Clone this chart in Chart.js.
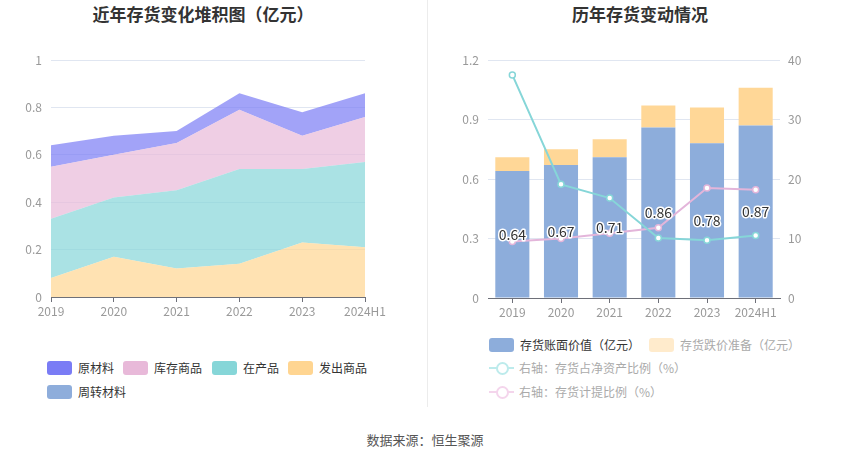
<!DOCTYPE html>
<html><head><meta charset="utf-8">
<script src="https://cdn.jsdelivr.net/npm/chart.js@4/dist/chart.umd.min.js"></script>
<style>
html,body{margin:0;padding:0;background:#fff;}
body{width:850px;height:459px;position:relative;overflow:hidden;font-family:"Noto Sans CJK SC","Noto Sans",sans-serif;}
.title{position:absolute;top:3px;font-size:17px;font-weight:bold;color:#333;text-align:center;line-height:22px;}
.box{position:absolute;}
.divider{position:absolute;left:427px;top:0;width:1px;height:407px;background:#ECECEC;}
.leg{position:absolute;font-size:12px;line-height:16px;}
.item{position:absolute;display:flex;align-items:center;white-space:nowrap;}
.sw{width:25px;height:14px;border-radius:3px;margin-right:6px;}
.li{width:25px;height:14px;margin-right:5px;position:relative;}
.li .ln{position:absolute;left:0;right:0;top:6px;height:2px;}
.li .cc{position:absolute;left:7px;top:1px;width:9px;height:9px;border-radius:50%;border:2px solid;background:#fff;}
.src{position:absolute;left:0;width:850px;top:431px;text-align:center;font-size:13px;color:#555;line-height:18px;}
</style></head>
<body>
<div class="title" style="left:0;width:406px;">近年存货变化堆积图（亿元）</div>
<div class="title" style="left:430px;width:420px;">历年存货变动情况</div>
<div class="divider"></div>
<div class="box" style="left:0;top:40px;width:400px;height:280px;"><canvas id="c1"></canvas></div>
<div class="box" style="left:430px;top:40px;width:420px;height:280px;"><canvas id="c2"></canvas></div>
<div id="leg1"></div>
<div id="leg2"></div>
<div class="src">数据来源：恒生聚源</div>
<script>
// ---------- data ----------
const years = ['2019','2020','2021','2022','2023','2024H1'];
// left stacked area (亿元)
const shippedGoods = [0.08,0.17,0.12,0.14,0.23,0.21];   // 发出商品
const wip          = [0.25,0.25,0.33,0.40,0.31,0.36];   // 在产品
const finished     = [0.22,0.18,0.20,0.25,0.14,0.19];   // 库存商品
const rawMaterial  = [0.09,0.08,0.05,0.07,0.10,0.10];   // 原材料
const turnover     = [0,0,0,0,0,0];                     // 周转材料
const leftTicks = [0,0.2,0.4,0.6,0.8,1];
// right chart
const bookValue  = [0.64,0.67,0.71,0.86,0.78,0.87];     // 存货账面价值
const provision  = [0.07,0.08,0.09,0.11,0.18,0.19];     // 存货跌价准备
const ratioNetAsset = [37.5,19.1,16.8,10.1,9.7,10.5];   // 存货占净资产比例(%)
const ratioProvision = [9.5,10.0,10.9,11.8,18.5,18.2];  // 存货计提比例(%)
const rightTicksL = [0,0.3,0.6,0.9,1.2];
const rightTicksR = [0,10,20,30,40];

// ---------- styles ----------
const C = {raw:'#7A7CF5', fin:'#E8B9D9', wip:'#86D6D8', ship:'#FFD591', turn:'#8EADDB', book:'#8DADDB', prov:'#FFD797'};
function rgba(hex,a){const n=parseInt(hex.slice(1),16);return `rgba(${n>>16},${(n>>8)&255},${n&255},${a})`;}
const gridColor = '#E0E6F1', axisColor = '#6E7079', tickColor = '#999';
const font = {family:'"Noto Sans CJK SC","Noto Sans",sans-serif', size:12};

function area(label, data, color, fill){
  return {label, data, fill, backgroundColor: rgba(color,0.7), borderWidth:0, pointRadius:0, tension:0};
}

new Chart(document.getElementById('c1'), {
  type:'line',
  data:{labels:years, datasets:[
    area('发出商品', shippedGoods, C.ship, 'origin'),
    area('在产品', wip, C.wip, '-1'),
    area('库存商品', finished, C.fin, '-1'),
    area('原材料', rawMaterial, C.raw, '-1'),
    area('周转材料', turnover, C.turn, '-1')
  ]},
  options:{
    responsive:true, maintainAspectRatio:false, animation:false,
    layout:{padding:{left:0,right:35,top:20,bottom:0}},
    plugins:{legend:{display:false}, tooltip:{enabled:false}},
    scales:{
      x:{offset:false,
         grid:{display:true,drawOnChartArea:false,drawTicks:true,tickLength:5,color:axisColor},
         border:{color:axisColor},
         ticks:{color:tickColor,font,padding:2,maxRotation:0,autoSkip:false},
         afterFit(s){s.height=23;}},
      y:{stacked:true,min:0,max:1,
         afterBuildTicks(s){s.ticks=leftTicks.map(v=>({value:v}));},
         grid:{color:gridColor,drawTicks:false},
         border:{display:false},
         ticks:{color:tickColor,font,padding:9,callback:v=>String(+v.toFixed(1))},
         afterFit(s){s.width=51;}}
    }
  }
});

const barLabels = {
  id:'barLabels',
  afterDatasetsDraw(chart){
    const ctx = chart.ctx; const meta = chart.getDatasetMeta(0);
    ctx.save();
    ctx.font = '14px "Noto Sans CJK SC","Noto Sans",sans-serif';
    ctx.textAlign='center'; ctx.textBaseline='middle';
    ctx.lineJoin='round';
    meta.data.forEach((b,i)=>{
      const y=(b.y+b.base)/2; const t=bookValue[i].toFixed(2);
      ctx.lineWidth=3; ctx.strokeStyle='#fff'; ctx.strokeText(t,b.x,y);
      ctx.fillStyle='#333'; ctx.fillText(t,b.x,y);
    });
    ctx.restore();
  }
};

new Chart(document.getElementById('c2'), {
  type:'bar',
  data:{labels:years, datasets:[
    {type:'bar',label:'存货账面价值（亿元）',data:bookValue,backgroundColor:C.book,stack:'s',yAxisID:'y',order:1,barPercentage:0.7,categoryPercentage:1},
    {type:'bar',label:'存货跌价准备（亿元）',data:provision,backgroundColor:C.prov,stack:'s',yAxisID:'y',order:1,barPercentage:0.7,categoryPercentage:1},
    {type:'line',label:'右轴：存货占净资产比例（%）',data:ratioNetAsset,yAxisID:'y1',order:0,borderColor:'#86D6D8',borderWidth:2,pointRadius:3,pointBorderWidth:1.5,pointBackgroundColor:'#fff',pointBorderColor:'#86D6D8',tension:0,fill:false},
    {type:'line',label:'右轴：存货计提比例（%）',data:ratioProvision,yAxisID:'y1',order:0,borderColor:'#E3B5DA',borderWidth:2,pointRadius:3,pointBorderWidth:1.5,pointBackgroundColor:'#fff',pointBorderColor:'#E3B5DA',tension:0,fill:false}
  ]},
  options:{
    responsive:true, maintainAspectRatio:false, animation:false,
    layout:{padding:{left:0,right:0,top:20,bottom:0}},
    plugins:{legend:{display:false}, tooltip:{enabled:false}},
    scales:{
      x:{stacked:true,offset:true,
         grid:{display:true,offset:false,drawOnChartArea:false,drawTicks:true,tickLength:5,color:axisColor},
         border:{color:axisColor},
         ticks:{color:tickColor,font,padding:2,maxRotation:0,autoSkip:false},
         afterFit(s){s.height=22;}},
      y:{stacked:true,position:'left',min:0,max:1.2,
         afterBuildTicks(s){s.ticks=rightTicksL.map(v=>({value:v}));},
         grid:{color:gridColor,drawTicks:false},
         border:{display:false},
         ticks:{color:tickColor,font,padding:9,callback:v=>String(+v.toFixed(1))},
         afterFit(s){s.width=58;}},
      y1:{position:'right',min:0,max:40,
         afterBuildTicks(s){s.ticks=rightTicksR.map(v=>({value:v}));},
         grid:{drawOnChartArea:false,drawTicks:false},
         border:{display:false},
         ticks:{color:tickColor,font,padding:8},
         afterFit(s){s.width=70;}}
    }
  },
  plugins:[barLabels]
});

// ---------- legends (HTML) ----------
const leg1Items = [
  {name:'原材料',color:C.raw,x:47,y:368},
  {name:'库存商品',color:C.fin,x:123,y:368},
  {name:'在产品',color:C.wip,x:212,y:368},
  {name:'发出商品',color:C.ship,x:288,y:368},
  {name:'周转材料',color:C.turn,x:47,y:392}
];
const leg2Items = [
  {name:'存货账面价值（亿元）',kind:'box',color:C.book,text:'#333',x:489,y:345},
  {name:'存货跌价准备（亿元）',kind:'box',color:'#FFEBCC',text:'#AAA',x:649,y:345},
  {name:'右轴：存货占净资产比例（%）',kind:'line',color:'#BDEBEC',text:'#AAA',x:489,y:368},
  {name:'右轴：存货计提比例（%）',kind:'line',color:'#F4D5EC',text:'#AAA',x:489,y:392}
];
function addItems(id, items){
  const host=document.getElementById(id);
  items.forEach(it=>{
    const d=document.createElement('div'); d.className='item leg';
    d.style.left=it.x+'px'; d.style.top=(it.y-8)+'px';
    let icon;
    if(it.kind==='line'){
      icon=`<div class="li"><div class="ln" style="background:${it.color}"></div><div class="cc" style="border-color:${it.color}"></div></div>`;
    } else {
      icon=`<div class="sw" style="background:${it.color}"></div>`;
    }
    d.innerHTML=icon+`<span style="color:${it.text||'#333'}">${it.name}</span>`;
    host.appendChild(d);
  });
}
addItems('leg1',leg1Items);
addItems('leg2',leg2Items);
</script>
</body></html>
